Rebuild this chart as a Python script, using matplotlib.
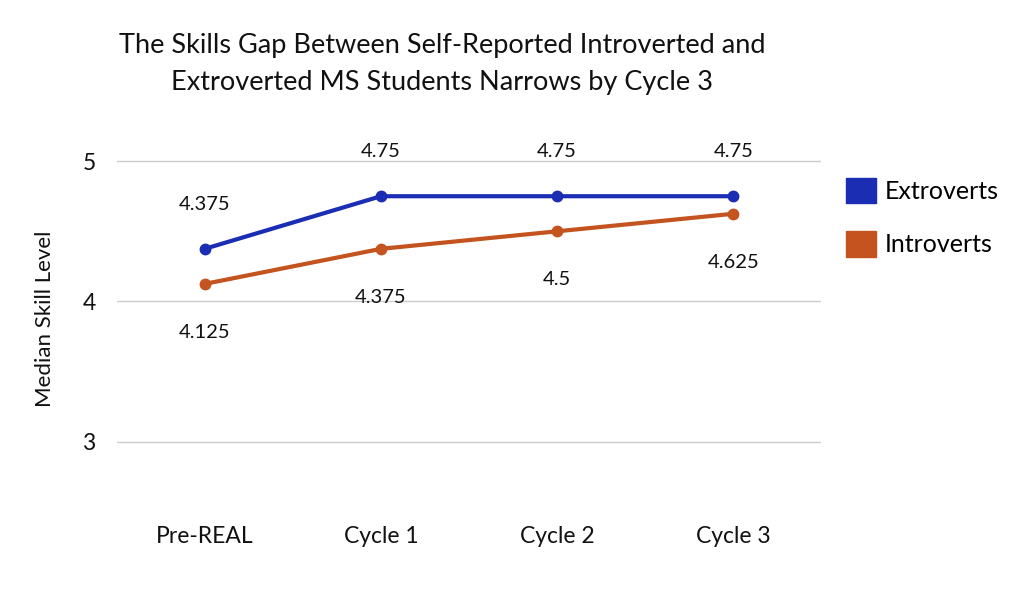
import numpy as np
import matplotlib
matplotlib.use('Agg')
import matplotlib.pyplot as plt
from matplotlib.patches import Patch

plt.rcParams['font.family'] = ['Lato', 'DejaVu Sans']

# data
stages = ['Pre-REAL', 'Cycle 1', 'Cycle 2', 'Cycle 3']
extroverts = [4.375, 4.75, 4.75, 4.75]
introverts = [4.125, 4.375, 4.5, 4.625]
ext_labels = ['4.375', '4.75', '4.75', '4.75']
int_labels = ['4.125', '4.375', '4.5', '4.625']

blue = '#1a2db3'
orange = '#c4531f'

fig = plt.figure(figsize=(10.24, 6.09), dpi=100)
ax = fig.add_axes([0.1138, 0.1593, 0.6884, 0.6337])

x = np.arange(len(stages))
ax.plot(x, extroverts, color=blue, lw=3, marker='o', ms=7.5, zorder=3)
ax.plot(x, introverts, color=orange, lw=3, marker='o', ms=7.5, zorder=3)

for xi, v, s in zip(x, extroverts, ext_labels):
    ax.annotate(s, (xi, v), xytext=(0, 32), textcoords='offset points',
                ha='center', va='center', fontsize=14.5, color='#111111')
for xi, v, s in zip(x, introverts, int_labels):
    ax.annotate(s, (xi, v), xytext=(0, -35), textcoords='offset points',
                ha='center', va='center', fontsize=14.5, color='#111111')

ax.set_xlim(-0.5, 3.5)
ax.set_ylim(2.5, 5.25)
ax.set_yticks([3, 4, 5])
ax.set_yticklabels(['3', '4', '5'])
ax.set_xticks(x)
ax.set_xticklabels(stages)
ax.grid(axis='y', color='#cccccc', lw=1)
ax.set_axisbelow(True)
for sp in ax.spines.values():
    sp.set_visible(False)
ax.tick_params(length=0, labelsize=16.5, colors='#111111')
ax.tick_params(axis='y', pad=15)
ax.tick_params(axis='x', pad=10)
ax.set_ylabel('Median Skill Level', fontsize=16, labelpad=20, color='#111111')

fig.text(0.432, 0.895, 'The Skills Gap Between Self-Reported Introverted and\nExtroverted MS Students Narrows by Cycle 3',
         ha='center', va='center', fontsize=19.5, linespacing=1.6, color='#111111')

handles = [Patch(color=blue, label='Extroverts'), Patch(color=orange, label='Introverts')]
fig.legend(handles=handles, loc='upper left', bbox_to_anchor=(0.804, 0.745),
           frameon=False, fontsize=18, handlelength=1.2, handleheight=1.2,
           labelspacing=1.1, handletextpad=0.35)

fig.savefig('out.png', dpi=100)
